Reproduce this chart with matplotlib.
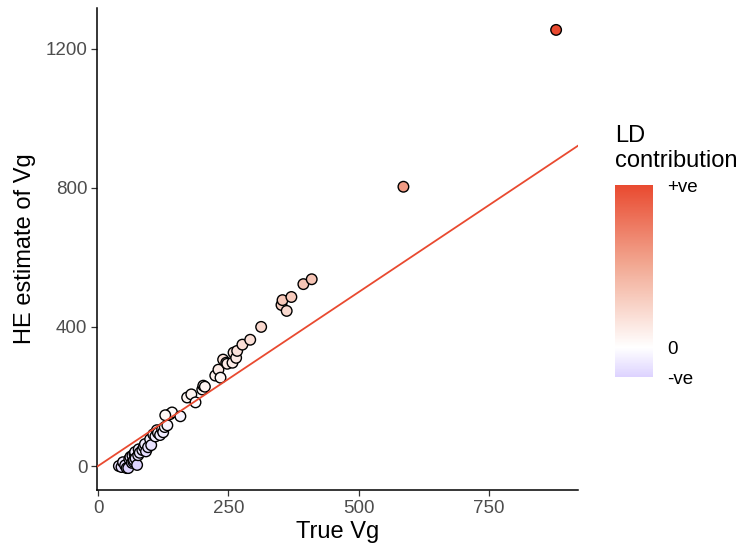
import matplotlib
matplotlib.use("Agg")
import matplotlib.pyplot as plt
import numpy as np
from matplotlib.colors import LinearSegmentedColormap, Normalize

plt.rcParams['font.family'] = ['Liberation Sans', 'DejaVu Sans']

# values
true_vg = [40, 45, 48, 52, 55, 58, 60, 62, 65, 66, 68, 69, 70, 71, 72, 75, 77, 78,
           80, 85, 88, 90, 92, 96, 100, 102, 106, 110, 113, 115, 119, 123, 125, 128,
           133, 138, 142, 129, 158, 171, 179, 187, 200, 202, 205, 225, 231, 235, 240,
           246, 248, 258, 260, 265, 267, 277, 292, 313, 352, 354, 362, 371, 394, 410,
           586, 879]
he_vg = [0, -3, 11, 2, -6, -6, 20, 26, 9, 30, 12, 17, 35, 40, 22, 3, 31, 48,
         38, 46, 55, 63, 42, 54, 77, 60, 91, 85, 103, 95, 89, 106, 97, 112,
         117, 149, 154, 146, 143, 197, 206, 183, 220, 231, 228, 260, 277, 254, 306,
         297, 294, 297, 326, 311, 331, 349, 363, 400, 463, 477, 446, 486, 523, 537,
         803, 1254]
# LD contribution, estimated from the fill colours
ld = [-40, -48, -37, -50, -61, -64, -40, -36, -56, -36, -56, -52, -35, -31, -50, -66, -46, -30,
      -42, -39, -33, -27, -50, -42, -23, -42, -15, -25, -10, -20, -30, -17, -28, -16,
      -16, 11, 12, 17, -15, 26, 27, -4, 20, 29, 23, 35, 46, 19, 66,
      51, 46, 39, 66, 46, 64, 72, 71, 87, 111, 123, 84, 115, 129, 127,
      217, 375]
ld_min, ld_max = -67, 376

red = '#E94A30'
mid = -ld_min / (ld_max - ld_min)
cmap = LinearSegmentedColormap.from_list(
    'ld', [(0, '#DDD3FF'), (mid, '#FFFFFF'),
           (mid + 0.5 * (1 - mid), '#F2AA94'), (1, red)])
norm = Normalize(vmin=ld_min, vmax=ld_max)

fig = plt.figure(figsize=(7.43, 5.53), dpi=100)
ax = fig.add_axes([97 / 743, 63 / 553, 481 / 743, 482 / 553])

sc = ax.scatter(true_vg, he_vg, c=ld, cmap=cmap, norm=norm, s=58,
                edgecolors='black', linewidths=1.0, zorder=2)
ax.axline((0, 0), slope=1, color=red, lw=1.3, zorder=3)
ax.set_xlim(-2, 921)
ax.set_ylim(-69, 1317)

ax.set_xticks([0, 250, 500, 750])
ax.set_yticks([0, 400, 800, 1200])
for s in ['top', 'right']:
    ax.spines[s].set_visible(False)
for s in ['left', 'bottom']:
    ax.spines[s].set_linewidth(1.1)
ax.tick_params(colors='#333333', labelcolor='#4D4D4D', labelsize=13.5,
               length=4, width=0.9, pad=3)
ax.set_xlabel('True Vg', fontsize=17, labelpad=3)
ax.set_ylabel('HE estimate of Vg', fontsize=17, labelpad=7)

cax = fig.add_axes([615 / 743, 176 / 553, 38 / 743, 192 / 553])
cb = fig.colorbar(sc, cax=cax, ticks=[ld_min, 0, ld_max])
cb.ax.set_yticklabels(['-ve', '0', '+ve'])
cb.outline.set_visible(False)
cb.ax.tick_params(length=0, labelsize=13.5, pad=10)
fig.text(615 / 743, 1 - 125 / 553, 'LD\ncontribution', fontsize=17,
         va='top', ha='left', linespacing=1.15)

fig.savefig('out.png', dpi=100)
